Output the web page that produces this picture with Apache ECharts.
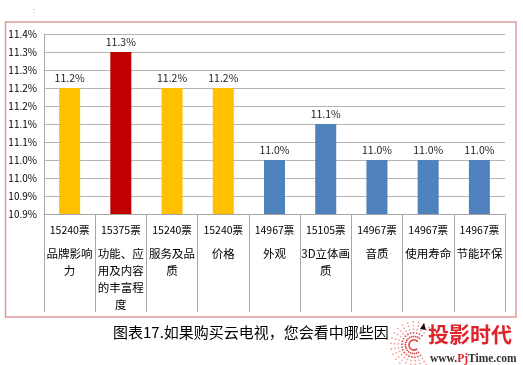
<!DOCTYPE html>
<html><head><meta charset="utf-8">
<script src="https://cdn.jsdelivr.net/npm/echarts@6/dist/echarts.min.js"></script>
<style>html,body{margin:0;padding:0;background:#fff}#c{width:523px;height:365px}</style>
</head><body><div id="c"></div>
<script>
const counts = ['15240票','15375票','15240票','15240票','14967票','15105票','14967票','14967票','14967票'];
const names = ['品牌影响\n力','功能、应\n用及内容\n的丰富程\n度','服务及品\n质','价格','外观','3D立体画\n质','音质','使用寿命','节能环保'];
const values = [11.2, 11.3, 11.2, 11.2, 11.0, 11.1, 11.0, 11.0, 11.0];
const barColors = ['#FFC000','#C00000','#FFC000','#FFC000','#4F81BD','#4F81BD','#4F81BD','#4F81BD','#4F81BD'];
const yTickLabels = ['10.9%','10.9%','11.0%','11.0%','11.1%','11.1%','11.2%','11.2%','11.3%','11.3%','11.4%'];
const yMin = 10.85, yMax = 11.35, yStep = 0.05;
const titleText = '图表17.如果购买云电视，您会看中哪些因';

const FONT = '"Noto Sans CJK SC", sans-serif';
const chart = echarts.init(document.getElementById('c'));

// decorative dotted logo
const logoDots = [];
const cx = 414, cy = 345;
for (let r = 5; r <= 23; r += 3.6) {
  for (let a = 50; a <= 310; a += 14) {
    const rad = a * Math.PI / 180;
    logoDots.push({type:'circle', shape:{cx: cx + r*Math.cos(rad), cy: cy - r*Math.sin(rad), r: 0.9},
      style:{fill: r > 15 ? '#F3A0A0' : '#E04848'}, silent:true});
  }
}

chart.setOption({
  animation: false,
  grid: {left: 44, right: 18, top: 34, bottom: 151},
  xAxis: {
    type: 'category',
    data: counts.map((c,i) => c),
    boundaryGap: true,
    axisLine: {lineStyle: {color: '#A6A6A6', width: 1}},
    axisTick: {show: true, interval: 0, length: 98, lineStyle: {color: '#A6A6A6'}},
    axisLabel: {
      interval: 0, margin: 1,
      formatter: (v, i) => '{a|' + counts[i] + '}\n' + names[i].split('\n').map(s => '{b|' + s + '}').join('\n'),
      rich: {
        a: {fontFamily: FONT, fontSize: 10.5, lineHeight: 30, color: '#000'},
        b: {fontFamily: FONT, fontSize: 11.5, lineHeight: 17, color: '#000'}
      },
      verticalAlign: 'top'
    }
  },
  yAxis: {
    type: 'value', min: yMin, max: yMax, interval: yStep,
    axisLine: {show: true, lineStyle: {color: '#A6A6A6'}},
    axisTick: {show: false},
    splitLine: {lineStyle: {color: '#B4B4B4', width: 1}},
    axisLabel: {
      margin: 7, fontFamily: FONT, fontSize: 10, color: '#000',
      formatter: (v, i) => yTickLabels[i]
    }
  },
  series: [{
    type: 'bar', barWidth: 21,
    data: values.map((v,i) => ({value: v, itemStyle: {color: barColors[i]}})),
    label: {show: true, position: 'top', distance: 5, fontFamily: FONT, fontSize: 10.5, color: '#222',
      formatter: p => values[p.dataIndex].toFixed(1) + '%'}
  }],
  graphic: [
    {type:'rect', shape:{x:5.5, y:22, width:510.5, height:295}, style:{fill:'none', stroke:'#DB9A9A', lineWidth:1.5}, silent:true},
    {type:'text', left: 33, top: 6, style:{text:':', fontSize: 8, fill:'#999', fontFamily: FONT}},
    {type:'text', left: 113, top: 325, style:{text: titleText, fontFamily: FONT, fontSize: 15, fill:'#000'}},
    ...logoDots,
    {type:'polygon', shape:{points:[[420,329],[424,323],[426,330]]}, style:{fill:'#111'}, silent:true},
    {type:'text', left: 428, top: 324, style:{text:'投影时代', fontFamily: FONT, fontSize: 21, fontWeight:'bold', fill:'#E0242C'}},
    {type:'text', left: 430, top: 353, style:{
      text:'{a|www.}{b|Pj}{a|Time.com}',
      rich:{a:{fontFamily:'"Liberation Serif", serif', fontSize: 11.5, fontWeight:'bold', fill:'#333'},
            b:{fontFamily:'"Liberation Serif", serif', fontSize: 11.5, fontWeight:'bold', fill:'#E0242C'}}}}
  ]
});
</script></body></html>
